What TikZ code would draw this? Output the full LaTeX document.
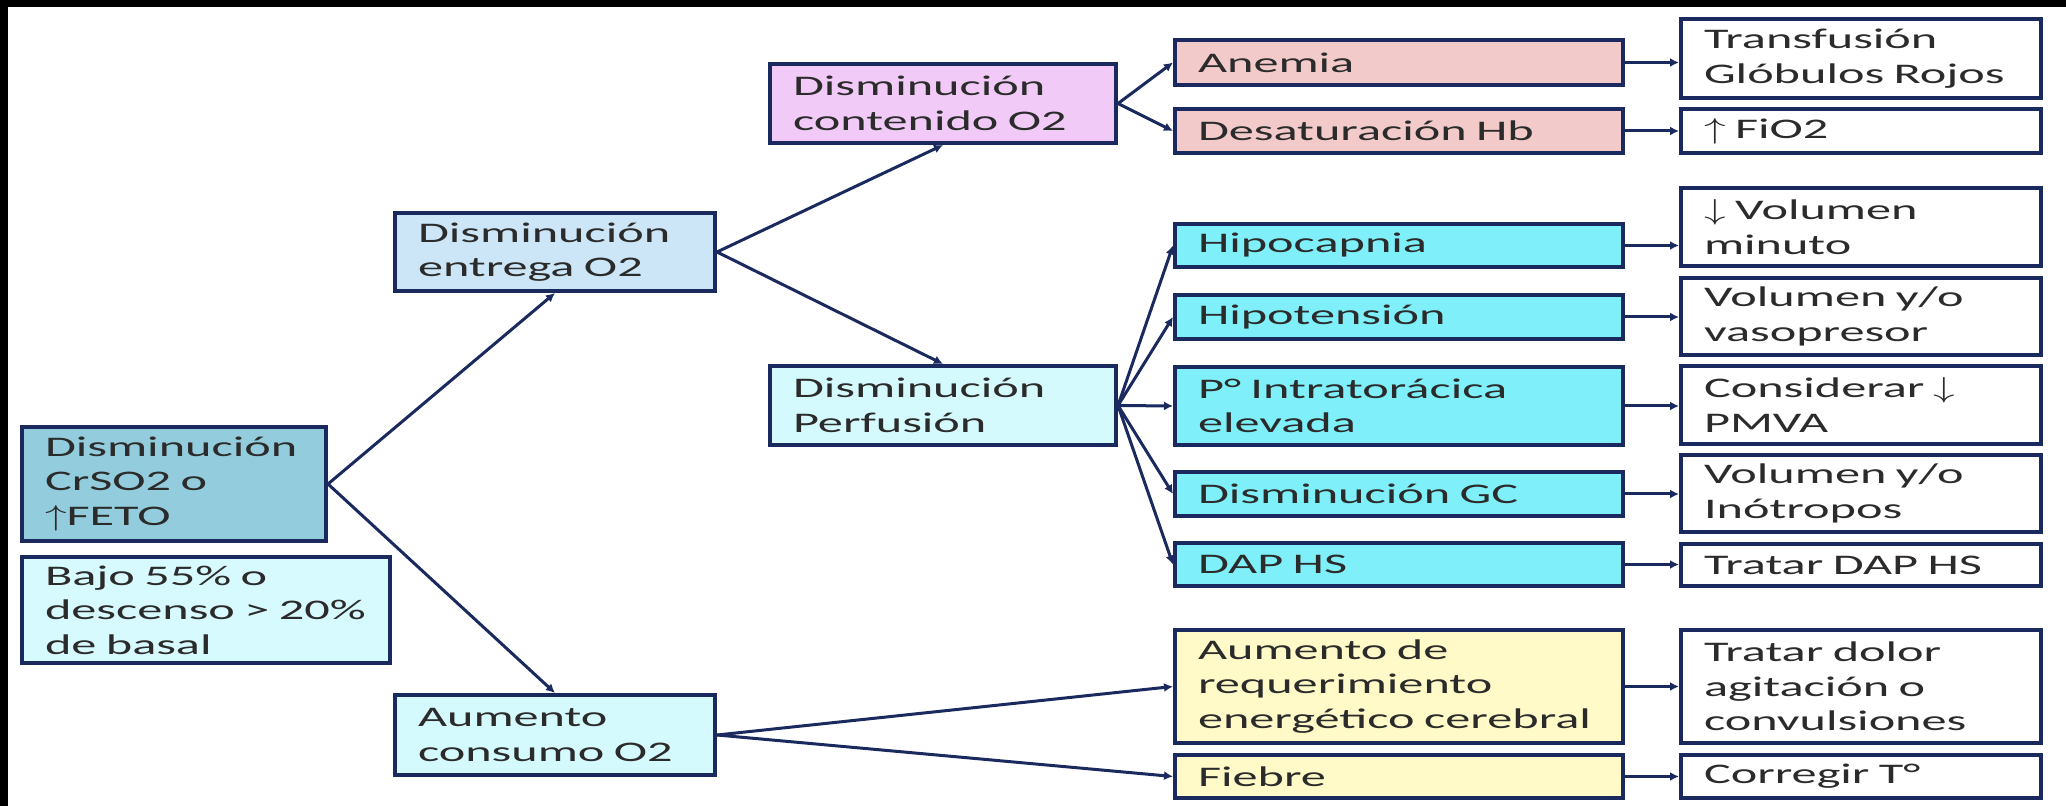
\documentclass[tikz,border=0pt]{standalone}
\usepackage{fontspec}
\setmainfont[FakeStretch=1.77]{Carlito}
\usepackage{graphicx}
\usepackage{tikz}
\usetikzlibrary{arrows.meta}
\definecolor{azul}{HTML}{1B2A5E}
\definecolor{tinta}{HTML}{2B2B2B}
\definecolor{cRaiz}{HTML}{93CDDD}
\definecolor{cNota}{HTML}{D7FAFE}
\definecolor{cEntr}{HTML}{CCE6F8}
\definecolor{cPerf}{HTML}{D5FAFD}
\definecolor{cCont}{HTML}{F2CAF8}
\definecolor{cRosa}{HTML}{F2CACA}
\definecolor{cCian}{HTML}{7FF0F9}
\definecolor{cAmar}{HTML}{FFFAC8}
\newcommand{\letra}{\fontsize{14.2}{17.3}\selectfont}
\newcommand{\flarriba}{\scalebox{1.5}[1]{$\uparrow$}}
\newcommand{\flabajo}{\scalebox{1.5}[1]{$\downarrow$}}

\begin{document}
\begin{tikzpicture}[x=0.5pt,y=-0.5pt,
	caja/.style={draw=azul,line width=2pt,inner xsep=11.5pt,inner ysep=0pt,
		align=left,text=tinta,font=\letra},
	col1/.style={caja,text width=137pt}, col2/.style={caja,text width=150pt},
	col3/.style={caja,text width=201pt}, col4/.style={caja,text width=157pt,fill=white},
	flecha/.style={draw=azul,line width=1.5pt,-{Latex[length=4.5pt,width=4.5pt]}}]
	\useasboundingbox (0,0) rectangle (2066,806);
	\fill[black] (0,0) rectangle (2066,7);
	\fill[black] (0,0) rectangle (8,806);
	\node [caja, fill=cRaiz, text width=129pt, minimum height=57pt] (raiz) at (174,484) {Disminución\\CrSO2 o\\\flarriba{}FETO};
	\node [caja, fill=cNota, text width=161pt, minimum height=53pt] (nota) at (206,610) {Bajo 55\% o\\\mbox{descenso > 20\%}\\de basal};
	\node [col1, fill=cEntr, minimum height=39pt] (entr) at (555,252) {Disminución\\entrega O2};
	\node [col1, fill=cPerf, minimum height=40pt] (cons) at (555,735) {Aumento\\consumo O2};
	\node [col2, fill=cCont, minimum height=39.5pt] (cont) at (943,103.5) {Disminución\\contenido O2};
	\node [col2, fill=cPerf, minimum height=39.5pt] (perf) at (943,405.5) {Disminución\\Perfusión};
	\node [col3, fill=cRosa, minimum height=22.5pt] (anem) at (1399,62.5) {Anemia};
	\node [col3, fill=cRosa, minimum height=22pt] (desat) at (1399,131) {Desaturación Hb};
	\node [col3, fill=cCian, minimum height=21.5pt] (hcap) at (1399,245.5) {Hipocapnia};
	\node [col3, fill=cCian, minimum height=22pt] (hten) at (1399,317) {Hipotensión};
	\node [col3, fill=cCian, minimum height=39pt] (ptor) at (1399,406) {P° Intratorácica\\elevada};
	\node [col3, fill=cCian, minimum height=22pt] (dgc) at (1399,494) {Disminución GC};
	\node [col3, fill=cCian, minimum height=21.5pt] (dap) at (1399,564.5) {DAP HS};
	\node [col3, fill=cAmar, minimum height=56.5pt] (reque) at (1399,686.5) {Aumento de\\requerimiento\\\mbox{energético cerebral}};
	\node [col3, fill=cAmar, minimum height=21.5pt] (fieb) at (1399,776.5) {Fiebre};
	\node [col4, minimum height=39.5pt] (transf) at (1861,58.5) {Transfusión\\Glóbulos Rojos};
	\node [col4, minimum height=22pt] (fio) at (1861,131) {\flarriba{} FiO2};
	\node [col4, minimum height=39pt] (vmin) at (1861,227) {\flabajo{} Volumen\\minuto};
	\node [col4, minimum height=38.5pt] (vaso) at (1861,316.5) {Volumen y/o\\vasopresor};
	\node [col4, minimum height=39pt] (pmva) at (1861,405) {Considerar \flabajo\\PMVA};
	\node [col4, minimum height=38.5pt] (inot) at (1861,493.5) {Volumen y/o\\Inótropos};
	\node [col4, minimum height=21pt] (tdap) at (1861,565) {Tratar DAP HS};
	\node [col4, minimum height=56.5pt] (tdol) at (1861,686.5) {Tratar dolor\\agitación o\\convulsiones};
	\node [col4, minimum height=21.5pt] (corr) at (1861,776.5) {Corregir T°};
	\draw [flecha] (raiz.east) -- (entr.south);
	\draw [flecha] (raiz.east) -- (cons.north);
	\draw [flecha] (entr.east) -- (cont.south);
	\draw [flecha] (entr.east) -- (perf.north);
	\foreach \d in {anem,desat} \draw [flecha] (cont.east) -- (\d.west);
	\foreach \d in {hcap,hten,ptor,dgc,dap} \draw [flecha] (perf.east) -- (\d.west);
	\foreach \d in {reque,fieb} \draw [flecha] (cons.east) -- (\d.west);
	\foreach \a/\b in {anem/transf,desat/fio,hcap/vmin,hten/vaso,ptor/pmva,dgc/inot,dap/tdap,reque/tdol,fieb/corr}
		\draw [flecha] (\a.east) -- (\a.east -| \b.west);
\end{tikzpicture}
\end{document}
